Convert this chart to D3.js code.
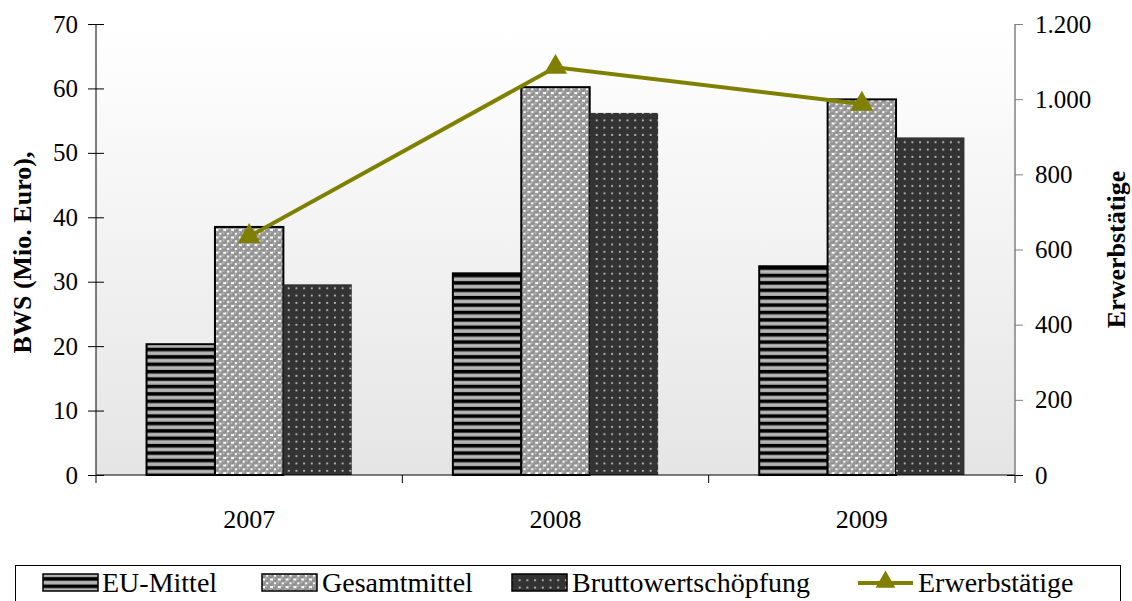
<!DOCTYPE html>
<html><head><meta charset="utf-8">
<script src="https://cdn.jsdelivr.net/npm/d3@7/dist/d3.min.js"></script>
<style>body{margin:0;background:#fff}svg{display:block}text{font-family:"Liberation Serif","Times New Roman",serif}</style>
</head><body>
<svg id="c" width="1132" height="601"></svg>
<script>
const categories = ["2007", "2008", "2009"];
const seriesNames = ["EU-Mittel", "Gesamtmittel", "Bruttowertschöpfung"];
const euMittel = [20.3, 31.3, 32.4];
const gesamtmittel = [38.5, 60.2, 58.3];
const brutto = [29.6, 56.2, 52.4];
const erwerbstaetige = [635, 1085, 987];
const leftTicks = [0, 10, 20, 30, 40, 50, 60, 70];
const rightTicks = [0, 200, 400, 600, 800, 1000, 1200];
const lineName = "Erwerbstätige";
const leftTitle = "BWS (Mio. Euro),";
const rightTitle = "Erwerbstätige";

const svg = d3.select("#c");
const L = 96, R = 1015, T = 24, B = 475;
const defs = svg.append("defs");

const g = defs.append("linearGradient").attr("id","bg").attr("x1",0).attr("y1",0).attr("x2",0).attr("y2",1);
g.append("stop").attr("offset","0%").attr("stop-color","#ffffff");
g.append("stop").attr("offset","100%").attr("stop-color","#e5e5e5");

const p1 = defs.append("pattern").attr("id","pEU").attr("patternUnits","userSpaceOnUse").attr("width",8).attr("height",7.4);
p1.append("rect").attr("width",8).attr("height",7.4).attr("fill","#000");
p1.append("rect").attr("y",3.4).attr("width",8).attr("height",4).attr("fill","#a4a4a4");
p1.append("rect").attr("y",4.6).attr("width",8).attr("height",1.4).attr("fill","#bcbcbc");

const p2 = defs.append("pattern").attr("id","pG").attr("patternUnits","userSpaceOnUse").attr("width",7.8).attr("height",7.6);
p2.append("rect").attr("width",7.8).attr("height",7.6).attr("fill","#ffffff");
[[1.95,1.9],[5.85,5.7],[5.85,-1.9],[-1.95,5.7],[9.75,5.7],[1.95,9.5]].forEach(([cx,cy])=>{
  p2.append("circle").attr("cx",cx).attr("cy",cy).attr("r",2.85).attr("fill","#8f8f8f");
  p2.append("circle").attr("cx",cx-0.6).attr("cy",cy-0.8).attr("r",1).attr("fill","#bdbdbd");
});

const p3 = defs.append("pattern").attr("id","pB").attr("patternUnits","userSpaceOnUse").attr("width",7.7).attr("height",7.3);
p3.append("rect").attr("width",7.7).attr("height",7.3).attr("fill","#333333");
p3.append("circle").attr("cx",3.8).attr("cy",3.6).attr("r",1).attr("fill","#c8c8c8");

const fills = {"EU-Mittel":"url(#pEU)","Gesamtmittel":"url(#pG)","Bruttowertschöpfung":"url(#pB)"};
const strokes = {"EU-Mittel":"#000","Gesamtmittel":"#000","Bruttowertschöpfung":"none"};
const values = {"EU-Mittel":euMittel,"Gesamtmittel":gesamtmittel,"Bruttowertschöpfung":brutto};

const x0 = d3.scaleBand().domain(categories).range([L,R]).paddingInner(0.33).paddingOuter(0.165);
const x1 = d3.scaleBand().domain(seriesNames).range([0,x0.bandwidth()]);
const y = d3.scaleLinear().domain([0,70]).range([B,T]);
const y2 = d3.scaleLinear().domain([0,1200]).range([B,T]);

svg.append("rect").attr("x",L).attr("y",T).attr("width",R-L).attr("height",B-T).attr("fill","url(#bg)");

seriesNames.forEach(s=>{
  svg.append("g").selectAll("rect").data(categories).join("rect")
    .attr("x",c=>x0(c)+x1(s)).attr("y",(c,i)=>y(values[s][i]))
    .attr("width",x1.bandwidth()).attr("height",(c,i)=>B-y(values[s][i]))
    .attr("fill",fills[s]).attr("stroke",strokes[s]).attr("stroke-width",2);
});

const la = svg.append("g").attr("transform",`translate(${L},0)`)
  .call(d3.axisLeft(y).tickValues(leftTicks).tickSize(8).tickPadding(10));
la.selectAll(".tick line").attr("x2",8).attr("x1",-8);
la.select(".domain").attr("d",`M0,${T}V${B}`);
la.selectAll("text").attr("font-size",25).attr("fill","#000");

const de = d3.formatLocale({decimal:",",thousands:".",grouping:[3],currency:["","€"]});
const ra = svg.append("g").attr("transform",`translate(${R},0)`)
  .call(d3.axisRight(y2).tickValues(rightTicks).tickSize(8).tickPadding(12).tickFormat(de.format(",d")));
ra.select(".domain").attr("d",`M0,${T}V${B}`).attr("stroke","#808080").attr("stroke-width",1.5);
ra.selectAll(".tick line").attr("stroke","#808080");
ra.selectAll(".tick").filter(d=>d===0).select("line").attr("x1",-8).attr("stroke","#000");
ra.selectAll("text").attr("font-size",25).attr("fill","#000");

const bounds = categories.map(c=>x0(c)-x0.step()*x0.paddingInner()/2).concat([R]);
bounds[0] = L;
svg.append("line").attr("x1",L).attr("x2",R).attr("y1",B).attr("y2",B).attr("stroke","#000");
svg.append("g").selectAll("line").data(bounds).join("line")
  .attr("x1",d=>d).attr("x2",d=>d).attr("y1",B).attr("y2",B+8).attr("stroke","#000");
svg.append("g").selectAll("text").data(categories).join("text")
  .attr("x",c=>x0(c)+x0.bandwidth()/2).attr("y",528).attr("text-anchor","middle")
  .attr("font-size",26).text(c=>c);

const lineColor = "#808000";
const lg = d3.line().x((d,i)=>x0(categories[i])+x0.bandwidth()/2).y(d=>y2(d));
svg.append("path").datum(erwerbstaetige).attr("d",lg).attr("fill","none").attr("stroke",lineColor).attr("stroke-width",4);
svg.append("g").selectAll("path").data(erwerbstaetige).join("path")
  .attr("transform",(d,i)=>`translate(${x0(categories[i])+x0.bandwidth()/2},${y2(d)})`)
  .attr("d",d3.symbol(d3.symbolTriangle,230)).attr("fill",lineColor);

svg.append("text").attr("transform",`translate(31,${(T+B)/2+3}) rotate(-90)`).attr("text-anchor","middle")
  .attr("font-size",26).attr("font-weight","bold").text(leftTitle);
svg.append("text").attr("transform",`translate(1125,${(T+B)/2}) rotate(-90)`).attr("text-anchor","middle")
  .attr("font-size",26).attr("font-weight","bold").text(rightTitle);

svg.append("rect").attr("x",15.5).attr("y",565.5).attr("width",1105).attr("height",50).attr("fill","#fff").attr("stroke","#000");
const legItems = [
  {name:seriesNames[0], sx:43, tx:102},
  {name:seriesNames[1], sx:262, tx:322},
  {name:seriesNames[2], sx:512, tx:572},
  {name:lineName, sx:858, tx:918, line:true}
];
legItems.forEach(it=>{
  if(it.line){
    svg.append("line").attr("x1",it.sx).attr("x2",it.sx+55).attr("y1",583).attr("y2",583).attr("stroke",lineColor).attr("stroke-width",4);
    svg.append("path").attr("transform",`translate(${it.sx+27.5},582)`).attr("d",d3.symbol(d3.symbolTriangle,170)).attr("fill",lineColor);
  } else {
    svg.append("rect").attr("x",it.sx).attr("y",574).attr("width",55).attr("height",17)
      .attr("fill",fills[it.name]).attr("stroke","#000").attr("stroke-width",1.5);
  }
  svg.append("text").attr("x",it.tx).attr("y",592).attr("font-size",28).text(it.name);
});
</script>
</body></html>
